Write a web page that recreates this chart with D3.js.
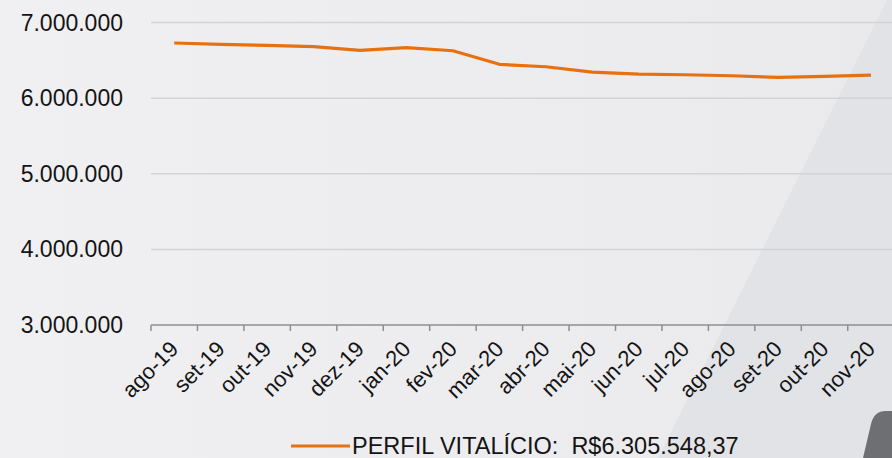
<!DOCTYPE html>
<html>
<head>
<meta charset="utf-8">
<script src="https://cdn.jsdelivr.net/npm/d3@7"></script>
<style>
  html, body { margin: 0; padding: 0; background: #eeeff1; }
  svg { display: block; font-family: "Liberation Sans", Arial, sans-serif; }
</style>
</head>
<body>
<div id="chart"></div>
<script>
// monthly values
var months = ['ago-19','set-19','out-19','nov-19','dez-19','jan-20','fev-20','mar-20',
              'abr-20','mai-20','jun-20','jul-20','ago-20','set-20','out-20','nov-20'];
var perfilVitalicio = [6730000, 6713000, 6699000, 6681000, 6633000, 6668000, 6628000, 6448000,
                       6416000, 6346000, 6319000, 6310000, 6297000, 6275000, 6289000, 6305548.37];
var yTicks = [3000000, 4000000, 5000000, 6000000, 7000000];
var seriesName = 'PERFIL VITALÍCIO:';

var width = 892, height = 458;

var br = d3.formatLocale({decimal: ',', thousands: '.', grouping: [3], currency: ['R$', '']});
var fmtInt = br.format(',.0f');
var fmtMoney = br.format(',.2f');

var svg = d3.select('#chart').append('svg')
    .attr('width', width)
    .attr('height', height);

// background, light gray with a slightly darker diagonal wedge at the right
var defs = svg.append('defs');
var grad = defs.append('linearGradient').attr('id', 'bg')
    .attr('x1', '0').attr('y1', '0').attr('x2', '1').attr('y2', '0');
grad.append('stop').attr('offset', '0').attr('stop-color', '#f0f0f2');
grad.append('stop').attr('offset', '0.5').attr('stop-color', '#ededf0');
grad.append('stop').attr('offset', '1').attr('stop-color', '#eaeaec');
svg.append('rect').attr('width', width).attr('height', height).attr('fill', 'url(#bg)');
svg.append('path')
    .attr('d', 'M887,0 L892,0 L892,458 L658,458 Z')
    .attr('fill', '#e2e3e6');
svg.append('path')
    .attr('d', 'M892,411 L886,411 Q874,411 871,424 L863,458 L892,458 Z')
    .attr('fill', '#6e6f72');

var x = d3.scaleBand().domain(months).range([151, 151 + 16 * 46.45]);
var y = d3.scaleLinear().domain([3000000, 7000000]).range([325, 22.6]);

// gridlines
svg.selectAll('.grid')
    .data(yTicks.slice(1))
    .enter().append('line')
    .attr('class', 'grid')
    .attr('x1', 151).attr('x2', width)
    .attr('y1', function(d){ return y(d); })
    .attr('y2', function(d){ return y(d); })
    .attr('stroke', '#d2d3d6')
    .attr('stroke-width', 1.5);

// y labels
svg.selectAll('.ylab')
    .data(yTicks)
    .enter().append('text')
    .attr('class', 'ylab')
    .attr('x', 123)
    .attr('y', function(d){ return y(d); })
    .attr('dy', '0.35em')
    .attr('text-anchor', 'end')
    .attr('font-size', 23)
    .attr('fill', '#141414')
    .text(function(d){ return fmtInt(d); });

// x axis line and ticks
svg.append('line')
    .attr('x1', 151).attr('x2', width)
    .attr('y1', y(3000000)).attr('y2', y(3000000))
    .attr('stroke', '#8f8f92').attr('stroke-width', 1.5);

var tickPos = months.map(function(m){ return x(m); }).concat([x.range()[1]]);
svg.selectAll('.tick')
    .data(tickPos)
    .enter().append('line')
    .attr('x1', function(d){ return d; }).attr('x2', function(d){ return d; })
    .attr('y1', y(3000000)).attr('y2', y(3000000) + 6)
    .attr('stroke', '#8f8f92').attr('stroke-width', 1.5);

svg.selectAll('.xlab')
    .data(months)
    .enter().append('text')
    .attr('class', 'xlab')
    .attr('transform', function(d){
        return 'translate(' + (x(d) + x.bandwidth() / 2) + ',' + 345 + ') rotate(-45)';
    })
    .attr('text-anchor', 'end')
    .attr('dy', '0.35em')
    .attr('font-size', 22)
    .attr('fill', '#141414')
    .text(function(d){ return d; });

// the series
var line = d3.line()
    .x(function(d, i){ return x(months[i]) + x.bandwidth() / 2; })
    .y(function(d){ return y(d); });

svg.append('path')
    .datum(perfilVitalicio)
    .attr('d', line)
    .attr('fill', 'none')
    .attr('stroke', '#e8710f')
    .attr('stroke-width', 3.2)
    .attr('stroke-linejoin', 'round');

// legend
svg.append('line')
    .attr('x1', 291).attr('x2', 350)
    .attr('y1', 446).attr('y2', 446)
    .attr('stroke', '#e8710f').attr('stroke-width', 3.2);

svg.append('text')
    .attr('x', 352)
    .attr('y', 446)
    .attr('dy', '0.35em')
    .attr('font-size', 23.5)
    .attr('fill', '#141414')
    .style('white-space', 'pre')
    .text(seriesName + '  R$' + fmtMoney(perfilVitalicio[perfilVitalicio.length - 1]));
</script>
</body>
</html>
